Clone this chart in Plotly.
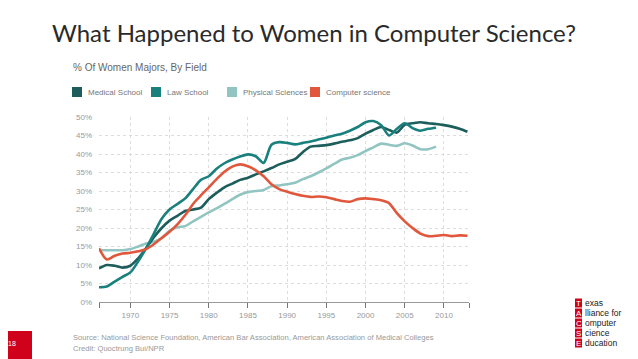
import plotly.graph_objects as go

years_all = list(range(1966, 2014))
years_short = list(range(1966, 2010))

series_names = ["Medical School", "Law School", "Physical Sciences", "Computer science"]
series_colors = ["#1d5e5c", "#1a807e", "#92c5c2", "#e0573b"]

medical = [9.1, 10.0, 9.8, 9.3, 9.8, 11.8, 14.5, 17.5, 20.0, 22.0, 23.3, 24.6, 25.0, 25.5,
           27.8, 29.5, 31.0, 32.0, 33.0, 33.6, 34.5, 35.3, 36.2, 37.2, 37.9, 38.6, 40.5,
           42.0, 42.2, 42.4, 42.8, 43.3, 43.7, 44.3, 45.5, 46.5, 47.3, 46.5, 45.8, 47.9,
           48.3, 48.6, 48.3, 48.1, 47.8, 47.4, 46.8, 46.0]
law = [4.0, 4.2, 5.5, 6.8, 8.0, 11.0, 14.5, 18.5, 22.5, 25.0, 26.5, 28.0, 30.5, 33.0,
       34.0, 36.0, 37.5, 38.5, 39.3, 39.9, 39.4, 37.6, 42.5, 43.2, 43.0, 42.6, 43.0, 43.4,
       43.9, 44.4, 45.0, 45.5, 46.3, 47.3, 48.6, 48.9, 47.8, 45.0, 46.8, 48.3, 47.0, 46.3,
       46.8, 47.1]
physical = [14.0, 14.0, 14.0, 14.0, 14.3, 15.0, 15.8, 16.3, 17.3, 19.3, 20.2, 20.5, 21.8,
            23.0, 24.2, 25.3, 26.5, 27.8, 29.0, 29.7, 30.0, 30.3, 31.3, 31.5, 31.8, 32.2,
            33.2, 34.0, 35.0, 36.1, 37.3, 38.5, 39.0, 39.7, 40.8, 41.8, 42.8, 42.5, 42.2,
            42.9, 42.3, 41.3, 41.3, 42.0]
computer = [14.5, 11.5, 12.5, 13.1, 13.3, 13.7, 14.3, 15.6, 17.3, 19.0, 21.0, 23.5, 26.5,
            28.8, 31.0, 33.2, 35.2, 36.6, 37.2, 36.7, 35.6, 34.0, 31.8, 30.5, 29.8, 29.2,
            28.7, 28.4, 28.5, 28.3, 27.8, 27.3, 27.1, 27.8, 28.0, 27.8, 27.5, 26.7, 24.0,
            21.8, 20.0, 18.5, 17.8, 17.9, 18.1, 17.8, 18.0, 17.9]

y_ticks = [0, 5, 10, 15, 20, 25, 30, 35, 40, 45, 50]
y_labels = [f"{v}%" for v in y_ticks]
x_ticks = [1970, 1975, 1980, 1985, 1990, 1995, 2000, 2005, 2010]

title_text = "What Happened to Women in Computer Science?"
subtitle_text = "% Of Women Majors, By Field"
source_text = "Source: National Science Foundation, American Bar Association, American Association of Medical Colleges"
credit_text = "Credit: Quoctrung Bui/NPR"
page_number = "18"
logo_letters = ["T", "A", "C", "S", "E"]
logo_rest = ["exas", "lliance for", "omputer", "cience", "ducation"]

fig = go.Figure()
data_sets = [(years_all, medical), (years_short, law), (years_short, physical), (years_all, computer)]
draw_order = [2, 0, 1, 3]
for i in draw_order:
    xs, ys = data_sets[i]
    fig.add_trace(go.Scatter(x=xs, y=ys, mode="lines", name=series_names[i],
                             line=dict(color=series_colors[i], width=2.6, shape="spline", smoothing=0.8),
                             showlegend=False))

# page body has an 8px margin, so the figure is offset by 8px
OFF = 8
W, H = 638 - OFF, 359 - OFF
L, R, T, B = 99, 469, 117, 302   # plot area in screen pixels

fig.update_layout(
    width=W, height=H,
    margin=dict(l=L - OFF, r=W - (R - OFF), t=T - OFF, b=H - (B - OFF), pad=0),
    paper_bgcolor="white", plot_bgcolor="white",
    xaxis=dict(range=[1966, 2013.2], tickvals=[1966] + x_ticks + [2013.2],
               ticktext=[""] + [str(v) for v in x_ticks] + [""],
               showgrid=True, gridcolor="#dddddd", griddash="dot", gridwidth=1,
               showline=True, linecolor="#999999", linewidth=1,
               ticks="outside", ticklen=5, tickcolor="#777777",
               tickfont=dict(family="Liberation Sans", size=8, color="#999999"),
               zeroline=False, fixedrange=True),
    yaxis=dict(range=[0, 50], tickvals=y_ticks, ticktext=y_labels,
               showgrid=True, gridcolor="#dddddd", griddash="dot", gridwidth=1,
               showline=False, ticks="", ticklabelstandoff=6,
               tickfont=dict(family="Liberation Sans", size=8, color="#999999"),
               zeroline=False, fixedrange=True),
    font=dict(family="Liberation Sans"),
)

annotations = []
shapes = []

def px(x):
    return (x - L) / (R - L)

def py(y):
    return (B - y) / (B - T)

annotations.append(dict(x=px(314), y=py(32), xref="paper", yref="paper", text=title_text,
                        showarrow=False, font=dict(family="Lato", size=24, color="#2a2a2a"),
                        xanchor="center", yanchor="middle"))

annotations.append(dict(x=px(71), y=py(67), xref="paper", yref="paper", text=subtitle_text,
                        showarrow=False, font=dict(family="Liberation Sans", size=10, color="#666666"),
                        xanchor="left", yanchor="middle"))

legend_x = [72, 151, 227, 310]
for i, name in enumerate(series_names):
    x0 = legend_x[i]
    shapes.append(dict(type="rect", xref="paper", yref="paper", x0=px(x0), x1=px(x0 + 10),
                       y0=py(97), y1=py(87), fillcolor=series_colors[i], line=dict(width=0)))
    annotations.append(dict(x=px(x0 + 14), y=py(92), xref="paper", yref="paper", text=name,
                            showarrow=False, font=dict(family="Liberation Sans", size=8, color="#777777"),
                            xanchor="left", yanchor="middle"))

annotations.append(dict(x=px(71), y=py(337), xref="paper", yref="paper", text=source_text,
                        showarrow=False, font=dict(family="Liberation Sans", size=7.6, color="#999999"),
                        xanchor="left", yanchor="middle"))
annotations.append(dict(x=px(71), y=py(348), xref="paper", yref="paper", text=credit_text,
                        showarrow=False, font=dict(family="Liberation Sans", size=7.6, color="#999999"),
                        xanchor="left", yanchor="middle"))

# page number block
shapes.append(dict(type="rect", xref="paper", yref="paper", x0=px(0), x1=px(32),
                   y0=py(359), y1=py(331), fillcolor="#d0021b", line=dict(width=0)))
annotations.append(dict(x=px(12), y=py(343), xref="paper", yref="paper", text=page_number,
                        showarrow=False, font=dict(family="Liberation Sans", size=7, color="white"),
                        xanchor="center", yanchor="middle"))

# logo
for k, (letter, rest) in enumerate(zip(logo_letters, logo_rest)):
    yc = 303 + k * 10
    shapes.append(dict(type="rect", xref="paper", yref="paper", x0=px(575), x1=px(582),
                       y0=py(yc + 4.5), y1=py(yc - 4.5), fillcolor="#d0021b", line=dict(width=0)))
    annotations.append(dict(x=px(578.5), y=py(yc), xref="paper", yref="paper", text=letter,
                            showarrow=False, font=dict(family="Liberation Sans", size=8, color="white"),
                            xanchor="center", yanchor="middle"))
    annotations.append(dict(x=px(583), y=py(yc), xref="paper", yref="paper", text=rest,
                            showarrow=False, font=dict(family="Liberation Sans", size=8.5, color="#222222"),
                            xanchor="left", yanchor="middle"))

fig.update_layout(annotations=annotations, shapes=shapes)
fig.write_html("out.html")
